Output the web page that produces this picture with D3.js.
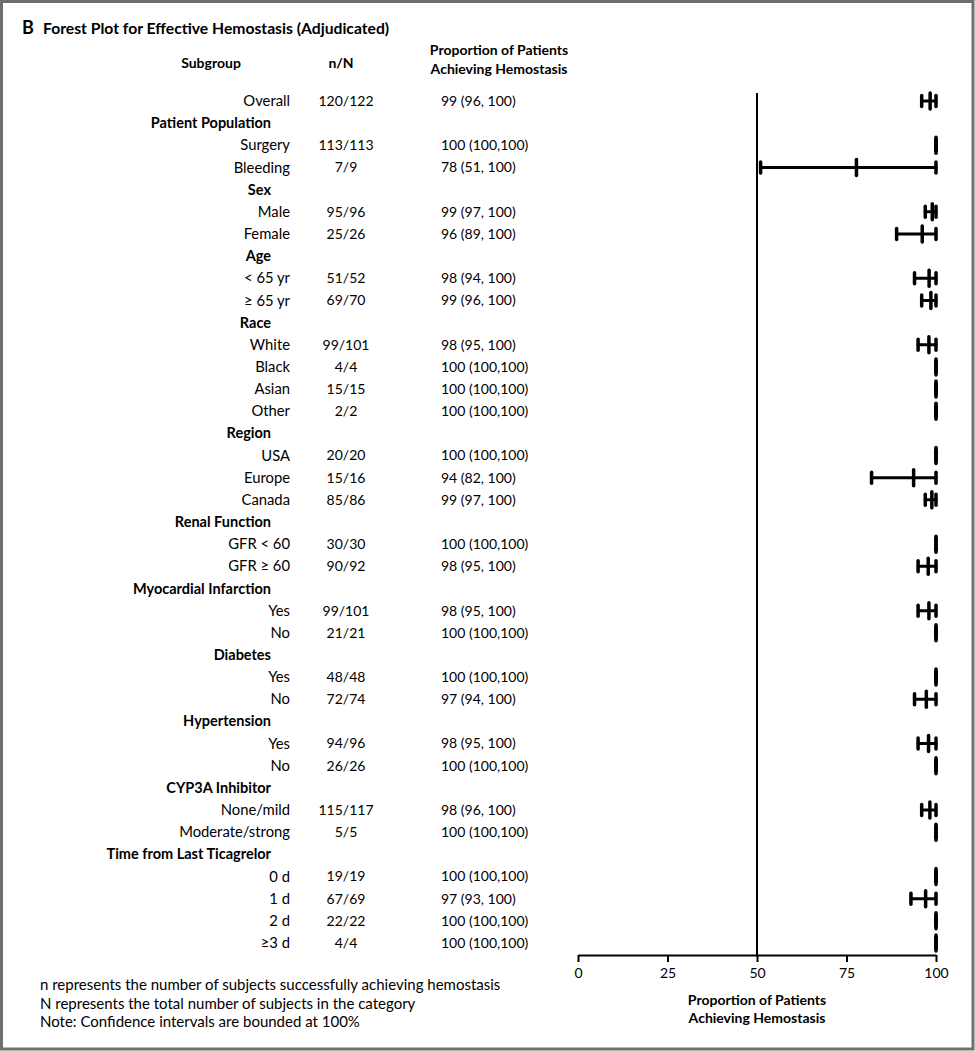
<!DOCTYPE html>
<html>
<head>
<meta charset="utf-8">
<script src="https://cdn.jsdelivr.net/npm/d3@7"></script>
<style>
    body { margin: 0; background: #fff; }
    svg { display: block; font-family: Lato, "Open Sans", sans-serif; }
    .bold { font-weight: bold; }
</style>
</head>
<body>
<svg width="975" height="1051"></svg>
<script>
// the data - one entry per row, headers have no numbers
const rows = ["Overall", "Patient Population", "Surgery", "Bleeding", "Sex", "Male", "Female",
    "Age", "< 65 yr", "\u2265 65 yr", "Race", "White", "Black", "Asian", "Other",
    "Region", "USA", "Europe", "Canada", "Renal Function", "GFR < 60", "GFR \u2265 60",
    "Myocardial Infarction", "Yes", "No", "Diabetes", "Yes", "No", "Hypertension", "Yes", "No",
    "CYP3A Inhibitor", "None/mild", "Moderate/strong",
    "Time from Last Ticagrelor", "0 d", "1 d", "2 d", "\u22653 d"];
const headers = ["Patient Population", "Sex", "Age", "Race", "Region", "Renal Function",
    "Myocardial Infarction", "Diabetes", "Hypertension", "CYP3A Inhibitor", "Time from Last Ticagrelor"];
const n = [120, null, 113, 7, null, 95, 25, null, 51, 69, null, 99, 4, 15, 2, null, 20, 15, 85,
    null, 30, 90, null, 99, 21, null, 48, 72, null, 94, 26, null, 115, 5, null, 19, 67, 22, 4];
const N = [122, null, 113, 9, null, 96, 26, null, 52, 70, null, 101, 4, 15, 2, null, 20, 16, 86,
    null, 30, 92, null, 101, 21, null, 48, 74, null, 96, 26, null, 117, 5, null, 19, 69, 22, 4];
const estimate = [99, null, 100, 78, null, 99, 96, null, 98, 99, null, 98, 100, 100, 100, null, 100, 94, 99,
    null, 100, 98, null, 98, 100, null, 100, 97, null, 98, 100, null, 98, 100, null, 100, 97, 100, 100];
const ciLow = [96, null, 100, 51, null, 97, 89, null, 94, 96, null, 95, 100, 100, 100, null, 100, 82, 97,
    null, 100, 95, null, 95, 100, null, 100, 94, null, 95, 100, null, 96, 100, null, 100, 93, 100, 100];
const ciHigh = [100, null, 100, 100, null, 100, 100, null, 100, 100, null, 100, 100, 100, 100, null, 100, 100, 100,
    null, 100, 100, null, 100, 100, null, 100, 100, null, 100, 100, null, 100, 100, null, 100, 100, 100, 100];
const axisTicks = [0, 25, 50, 75, 100];
const footnotes = ["n represents the number of subjects successfully achieving hemostasis",
    "N represents the total number of subjects in the category",
    "Note: Confidence intervals are bounded at 100%"];

let svg = d3.select("svg"),
    width = +svg.attr("width"),
    height = +svg.attr("height");

let data = rows.map((label, i) => ({
    i,
    label,
    header: headers.includes(label) && n[i] === null,
    n: n[i], N: N[i],
    est: estimate[i], lo: ciLow[i], hi: ciHigh[i]
}));

// scales
let x = d3.scaleLinear().domain([0, 100]).range([578, 936]);
let y = d3.scalePoint().domain(d3.range(rows.length)).range([101, 943]);

//////////// FRAME + TITLE ////////////
svg.append("rect")
    .attr("x", 1.5).attr("y", 1.5)
    .attr("width", width - 3.5).attr("height", height - 3.5)
    .attr("fill", "none")
    .attr("stroke", "#6e6e6e")
    .attr("stroke-width", 3);

svg.append("text").attr("class", "bold")
    .attr("x", 22).attr("y", 34)
    .attr("font-size", 18)
    .text("B");
svg.append("text").attr("class", "bold")
    .attr("x", 43).attr("y", 34)
    .attr("font-size", 15.7)
    .text("Forest Plot for Effective Hemostasis (Adjudicated)");

// column headers
let gHead = svg.append("g").attr("class", "bold").attr("font-size", 14);
gHead.append("text").attr("x", 211).attr("y", 68).attr("text-anchor", "middle").text("Subgroup");
gHead.append("text").attr("x", 341).attr("y", 68).attr("text-anchor", "middle").text("n/N");
gHead.append("text").attr("x", 499).attr("y", 55).attr("text-anchor", "middle").text("Proportion of Patients");
gHead.append("text").attr("x", 499).attr("y", 74).attr("text-anchor", "middle").text("Achieving Hemostasis");

//////////// TABLE ////////////
let gRows = svg.append("g").attr("font-size", 14).attr("fill", "#000");

gRows.selectAll("text.label")
    .data(data)
    .enter().append("text")
    .attr("class", d => d.header ? "label bold" : "label")
    .attr("x", d => d.header ? 271 : 290)
    .attr("y", d => y(d.i))
    .attr("dy", "0.35em")
    .attr("font-size", d => d.header ? 14.5 : 14.8)
    .attr("text-anchor", "end")
    .text(d => d.label);

let values = data.filter(d => d.n !== null);

gRows.selectAll("text.nn")
    .data(values)
    .enter().append("text")
    .attr("class", "nn")
    .attr("x", 346)
    .attr("y", d => y(d.i))
    .attr("dy", "0.35em")
    .attr("text-anchor", "middle")
    .text(d => d.n + "/" + d.N);

gRows.selectAll("text.prop")
    .data(values)
    .enter().append("text")
    .attr("class", "prop")
    .attr("x", 441)
    .attr("y", d => y(d.i))
    .attr("dy", "0.35em")
    .text(d => d.lo === 100 ? `${d.est} (100,100)` : `${d.est} (${d.lo}, ${d.hi})`);

//////////// PLOT ////////////
let axisY = 955;

// reference line at 50%
svg.append("line")
    .attr("x1", x(50)).attr("x2", x(50))
    .attr("y1", 93).attr("y2", axisY)
    .attr("stroke", "#000")
    .attr("stroke-width", 2);

let gAxis = svg.append("g")
    .attr("transform", `translate(0,${axisY})`)
    .call(d3.axisBottom(x).tickValues(axisTicks).tickSize(7).tickSizeOuter(0).tickPadding(6));
gAxis.select(".domain").attr("stroke-width", 2);
gAxis.selectAll(".tick line").attr("stroke-width", 2);
gAxis.selectAll(".tick text")
    .attr("font-family", "Lato, sans-serif")
    .attr("font-size", 14)
    .attr("fill", "#000");

let gTitle = svg.append("g").attr("class", "bold").attr("font-size", 14).attr("text-anchor", "middle");
gTitle.append("text").attr("x", x(50)).attr("y", 1005).text("Proportion of Patients");
gTitle.append("text").attr("x", x(50)).attr("y", 1023).text("Achieving Hemostasis");

// confidence intervals
let gCI = svg.append("g")
    .attr("stroke", "#000")
    .attr("stroke-linecap", "round");

let ci = gCI.selectAll("g")
    .data(values)
    .enter().append("g")
    .attr("transform", d => `translate(0,${y(d.i)})`);

ci.append("line")
    .attr("x1", d => x(d.lo)).attr("x2", d => x(d.hi))
    .attr("stroke-width", 3);
ci.append("line")
    .attr("x1", d => x(d.lo)).attr("x2", d => x(d.lo))
    .attr("y1", -5.5).attr("y2", 5.5)
    .attr("stroke-width", 3.5);
ci.append("line")
    .attr("x1", d => x(d.hi)).attr("x2", d => x(d.hi))
    .attr("y1", -5.5).attr("y2", 5.5)
    .attr("stroke-width", 3.5);
// point estimate = n / N
ci.append("line")
    .attr("x1", d => x(d.n / d.N * 100)).attr("x2", d => x(d.n / d.N * 100))
    .attr("y1", -8).attr("y2", 8)
    .attr("stroke-width", 3.5);

//////////// FOOTNOTES ////////////
svg.append("g")
    .attr("font-size", 15)
    .attr("fill", "#000")
    .selectAll("text")
    .data(footnotes)
    .enter().append("text")
    .attr("x", 40)
    .attr("y", (d, i) => 990 + i * 18.5)
    .text(d => d);
</script>
</body>
</html>
